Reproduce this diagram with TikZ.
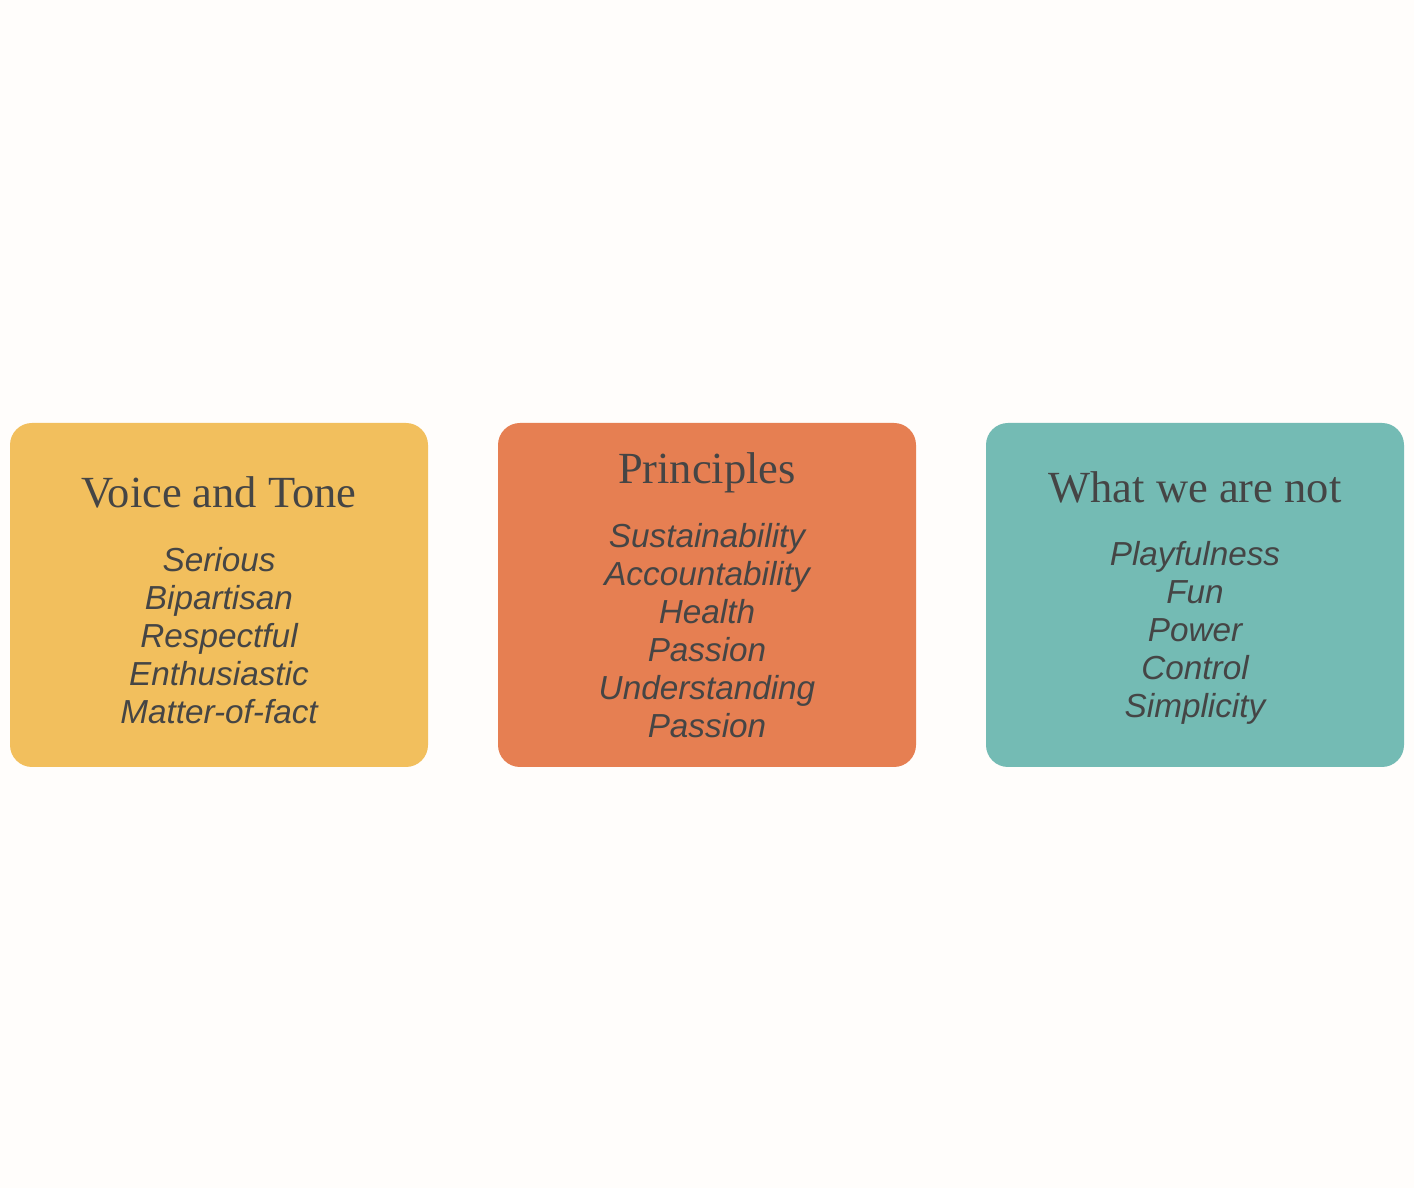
\documentclass[tikz,border=0pt]{standalone}
\usepackage{fontspec}
\setmainfont{Liberation Serif}
\newfontfamily\itemfont{Liberation Sans}
\usepackage{tikz}
\usetikzlibrary{calc, positioning}

\definecolor{cardyellow}{HTML}{F2BF5D}
\definecolor{cardorange}{HTML}{E67F52}
\definecolor{cardteal}{HTML}{74BBB4}
\definecolor{inkgrey}{HTML}{454545}
\definecolor{paper}{HTML}{FFFDFB}

\tikzset{
    card/.style={rectangle, rounded corners=22pt, minimum width=418pt, minimum height=344pt,
        inner sep=0pt, fill=#1},
    cardtitle/.style={anchor=base, inner sep=0pt, text=inkgrey, font=\fontsize{44.5}{48}\selectfont},
    carditem/.style={anchor=base, inner sep=0pt, text=inkgrey, font=\itemfont\itshape\fontsize{33.3}{38}\selectfont}
}

\begin{document}
\begin{tikzpicture}[x=1pt, y=1pt]
    \useasboundingbox[fill=paper] (0,0) rectangle (1414,1188);

    % the three cards
    \node[card=cardyellow] (voice) at (219,593) {};
    \node[card=cardorange] (princ) at (707,593) {};
    \node[card=cardteal] (isnot) at (1195,593) {};

    % titles
    \node[cardtitle] (voice-t) at ($(voice.north)+(0,-85)$) {Voice and Tone};
    \node[cardtitle] (princ-t) at ($(princ.north)+(0,-61)$) {Principles};
    \node[cardtitle] (isnot-t) at ($(isnot.north)+(0,-80)$) {What we are not};

    % lists
    \foreach \word [count=\i] in {Serious, Bipartisan, Respectful, Enthusiastic, Matter-of-fact} {
        \node[carditem] (voice-\i) at ($(voice.north)+(0,-149-38*\i+38)$) {\word};
    };
    \foreach \word [count=\i] in {Sustainability, Accountability, Health, Passion, Understanding, Passion} {
        \node[carditem] (princ-\i) at ($(princ.north)+(0,-125-38*\i+38)$) {\word};
    };
    \foreach \word [count=\i] in {Playfulness, Fun, Power, Control, Simplicity} {
        \node[carditem] (isnot-\i) at ($(isnot.north)+(0,-143-38*\i+38)$) {\word};
    };
\end{tikzpicture}
\end{document}
